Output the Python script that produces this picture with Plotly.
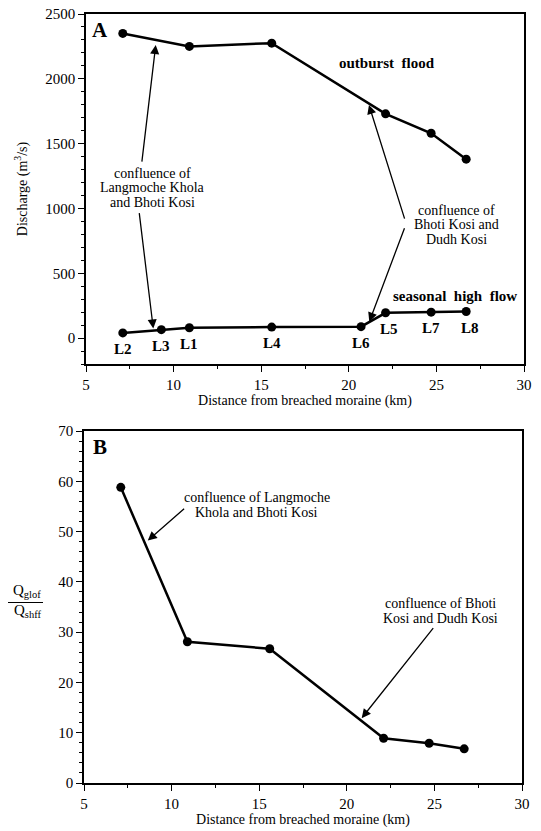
import plotly.graph_objects as go

# ---------------- data ----------------
site_labels = ["L2", "L3", "L1", "L4", "L6", "L5", "L7", "L8"]
site_km = [7.1, 9.3, 10.9, 15.6, 20.7, 22.1, 24.7, 26.7]
seasonal_q = [40, 65, 80, 85, 88, 195, 200, 205]

glof_km = [7.1, 10.9, 15.6, 22.1, 24.7, 26.7]
glof_q = [2350, 2250, 2275, 1730, 1580, 1380]

ratio_km = [7.1, 10.9, 15.6, 22.1, 24.7, 26.7]
ratio_q = [58.8, 28.1, 26.7, 8.9, 7.9, 6.8]

left_note_a = ["confluence of", "Langmoche Khola", "and Bhoti Kosi"]
right_note_a = ["confluence of", "Bhoti Kosi and", "Dudh Kosi"]
left_note_b = ["confluence of Langmoche", "Khola and Bhoti Kosi"]
right_note_b = ["confluence of Bhoti", "Kosi and Dudh Kosi"]

SERIF = "Liberation Serif"
W, H = 541, 831
ML, MR, MT, MB = 84, 17, 14, 48
PW = W - ML - MR
PH = H - MT - MB


def py(p):  # pixel y -> paper fraction
    return (H - MB - p) / PH


def px(p):
    return (p - ML) / PW


fig = go.Figure()
line_style = dict(color="black", width=2.5)
marker_style = dict(color="black", size=9)

fig.add_trace(go.Scatter(x=glof_km, y=glof_q, mode="lines+markers", line=line_style,
                         marker=marker_style, xaxis="x", yaxis="y", showlegend=False))
fig.add_trace(go.Scatter(x=site_km, y=seasonal_q, mode="lines+markers", line=line_style,
                         marker=marker_style, xaxis="x", yaxis="y", showlegend=False))
fig.add_trace(go.Scatter(x=ratio_km, y=ratio_q, mode="lines+markers", line=line_style,
                         marker=marker_style, xaxis="x2", yaxis="y2", showlegend=False))

ax_common = dict(showline=True, linecolor="black", linewidth=1.5, mirror=True,
                 ticks="outside", ticklen=6, tickwidth=1.2, tickcolor="black",
                 showgrid=False, zeroline=False, automargin=False,
                 tickfont=dict(family=SERIF, size=15, color="black"))

fig.update_layout(
    template="none",
    width=W, height=H, margin=dict(l=ML, r=MR, t=MT, b=MB, autoexpand=False),
    paper_bgcolor="white", plot_bgcolor="white",
    font=dict(family=SERIF, color="black"),
    xaxis=dict(domain=[px(86), 1], range=[5, 30], dtick=5, anchor="y",
               minor=dict(dtick=2.5, ticklen=3, ticks="outside", tickcolor="black"),
               title=dict(text="Distance from breached moraine (km)", standoff=3,
                          font=dict(family=SERIF, size=14)), **ax_common),
    yaxis=dict(domain=[py(364), py(14)], range=[-200, 2500], dtick=500, tick0=0, anchor="x",
               minor=dict(dtick=100, tick0=0, ticklen=3, ticks="outside", tickcolor="black"),
               title=dict(text="Discharge (m<sup>3</sup>/s)", standoff=14,
                          font=dict(family=SERIF, size=14)), **ax_common),
    xaxis2=dict(domain=[0, px(522)], range=[5, 30], dtick=5, anchor="y2",
                minor=dict(dtick=2.5, ticklen=3, ticks="outside", tickcolor="black"),
                title=dict(text="Distance from breached moraine (km)", standoff=3,
                           font=dict(family=SERIF, size=14)), **ax_common),
    yaxis2=dict(domain=[0, py(431)], range=[0, 70], dtick=10, anchor="x2",
                minor=dict(dtick=2, ticklen=3, ticks="outside", tickcolor="black"),
                **ax_common),
)

ann = []
note_font = dict(family=SERIF, size=14, color="black")
bold_font = dict(family=SERIF, size=15, color="black")

# panel letters
ann.append(dict(text="<b>A</b>", x=5.8, y=2380, xref="x", yref="y", showarrow=False,
                font=dict(family=SERIF, size=21, color="black")))
ann.append(dict(text="<b>B</b>", x=5.9, y=66.8, xref="x2", yref="y2", showarrow=False,
                font=dict(family=SERIF, size=21, color="black")))

# site labels
dx = {"L5": 0.2, "L8": 0.2}
for lab, xv, yv in zip(site_labels, site_km, seasonal_q):
    ann.append(dict(text="<b>" + lab + "</b>", x=xv + dx.get(lab, 0), y=yv, xref="x", yref="y",
                    showarrow=False, yshift=-16, font=bold_font))

ann.append(dict(text="<b>outburst\u00a0\u00a0flood</b>", x=22.16, y=2122, xref="x", yref="y",
                showarrow=False, font=bold_font))
ann.append(dict(text="<b>seasonal\u00a0\u00a0high\u00a0\u00a0flow</b>", x=26.06, y=326,
                xref="x", yref="y", showarrow=False, font=bold_font))

# multi-line notes (one annotation per line for tight spacing)
for i, t in enumerate(left_note_a):
    ann.append(dict(text=t, x=8.82, y=1273 - i * 112, xref="x", yref="y",
                    showarrow=False, font=note_font))
for i, t in enumerate(right_note_a):
    ann.append(dict(text=t, x=26.14, y=986 - i * 112, xref="x", yref="y",
                    showarrow=False, font=note_font))
for i, t in enumerate(left_note_b):
    ann.append(dict(text=t, x=14.87, y=56.7 - i * 2.9, xref="x2", yref="y2",
                    showarrow=False, font=note_font))
for i, t in enumerate(right_note_b):
    ann.append(dict(text=t, x=25.32, y=35.7 - i * 2.9, xref="x2", yref="y2",
                    showarrow=False, font=note_font))

# arrows (tail -> head)
arrows = [
    ("x", "y", 8.18, 1350, 8.98, 2261),
    ("x", "y", 8.03, 975, 8.84, 73),
    ("x", "y", 23.21, 910, 21.15, 1798),
    ("x", "y", 23.21, 859, 21.17, 126),
    ("x2", "y2", 10.80, 54.8, 8.64, 48.2),
    ("x2", "y2", 25.0, 31.1, 20.85, 12.9),
]
for xr, yr, tx, ty, hx, hy in arrows:
    ann.append(dict(text="", x=hx, y=hy, ax=tx, ay=ty, xref=xr, yref=yr, axref=xr, ayref=yr,
                    showarrow=True, arrowhead=2, arrowsize=1.4, arrowwidth=1.3,
                    arrowcolor="black", standoff=0, startstandoff=0))

# fraction y-title for panel B
ann.append(dict(text="Q<sub>glof</sub>", x=px(27), y=py(591), xref="paper", yref="paper",
                xanchor="center", yanchor="middle", showarrow=False,
                font=dict(family=SERIF, size=15, color="black")))
ann.append(dict(text="Q<sub>shff</sub>", x=px(27), y=py(611), xref="paper", yref="paper",
                xanchor="center", yanchor="middle", showarrow=False,
                font=dict(family=SERIF, size=15, color="black")))

fig.update_layout(annotations=ann)
fig.add_shape(type="line", xref="paper", yref="paper", x0=px(8), x1=px(43),
              y0=py(602.5), y1=py(602.5), line=dict(color="black", width=1))

fig.write_html("out.html", config={"displayModeBar": False},
               post_script="document.body.style.margin='0';document.body.style.padding='0';")
